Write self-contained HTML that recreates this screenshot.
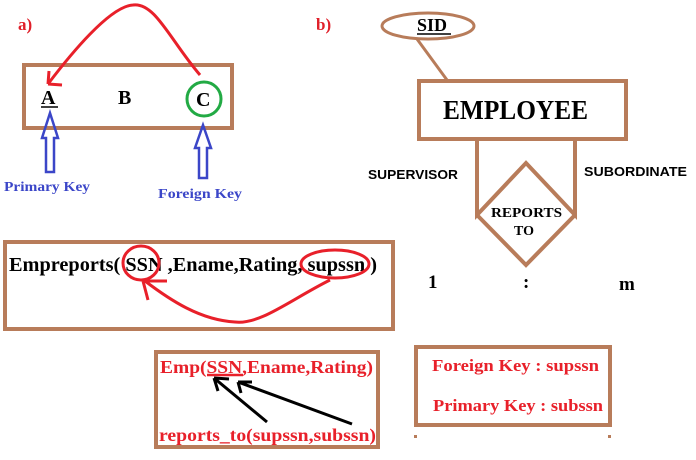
<!DOCTYPE html>
<html><head><style>
body{margin:0;width:696px;height:460px;background:#fff;overflow:hidden}
svg{display:block}
.s{font-family:"Liberation Serif",serif;font-weight:bold}
.a{font-family:"Liberation Sans",sans-serif;font-weight:bold}
</style></head><body>
<svg width="696" height="460" viewBox="0 0 696 460">
<g fill="none" stroke="#b87c5a" stroke-width="4">
<rect x="24" y="65" width="208" height="63"/>
<rect x="5" y="242" width="388" height="87"/>
<rect x="419" y="81" width="207" height="58"/>
<rect x="156" y="352" width="222" height="95"/>
<rect x="416" y="347" width="194" height="78"/>
<ellipse cx="428" cy="26" rx="46" ry="13" stroke-width="3"/>
<line x1="417" y1="39" x2="447" y2="80" stroke-width="3"/>
<polyline points="477,139 477,215 526,163 575,215 575,139"/>
<polyline points="477,215 526,265 575,215"/>
</g>
<rect x="414" y="435" width="3" height="3" fill="#b87c5a"/>
<rect x="608" y="435" width="3" height="3" fill="#b87c5a"/>
<text x="18" y="30" class="s" font-size="17" fill="#e0202a">a)</text>
<text x="316" y="30" class="s" font-size="17" fill="#e0202a">b)</text>
<text x="41" y="104" class="s" font-size="20">A</text>
<line x1="41" y1="107" x2="58" y2="107" stroke="#000" stroke-width="1.5"/>
<text x="118" y="104" class="s" font-size="20">B</text>
<text x="196" y="106" class="s" font-size="20">C</text>
<circle cx="204" cy="99" r="17" fill="none" stroke="#22aa44" stroke-width="3"/>
<g fill="none" stroke="#e8202a" stroke-width="3">
<path d="M200,75 C170,40 155,2 133,5 C110,6 70,55 48,84"/>
<path d="M48,84 L62,85 M48,84 L49,71"/>
</g>
<g fill="none" stroke="#3b46c8" stroke-width="2.5">
<path d="M50,113 L58,138 L54,138 L54,172 L46,172 L46,138 L42,138 Z"/>
<path d="M203,125 L211,148 L207,148 L207,178 L199,178 L199,148 L195,148 Z"/>
</g>
<text x="4" y="191" class="s" font-size="14" fill="#3b46c8" textLength="86" lengthAdjust="spacingAndGlyphs">Primary Key</text>
<text x="158" y="198" class="s" font-size="14" fill="#3b46c8" textLength="84" lengthAdjust="spacingAndGlyphs">Foreign Key</text>
<text x="9" y="271" class="s" font-size="20" textLength="368" lengthAdjust="spacingAndGlyphs">Empreports( SSN ,Ename,Rating, supssn )</text>
<g fill="none" stroke="#e8202a" stroke-width="3">
<ellipse cx="141" cy="263" rx="18" ry="17"/>
<ellipse cx="335" cy="264" rx="34" ry="14"/>
<path d="M330,280 C290,300 260,325 235,322 C200,320 170,300 145,281"/>
<path d="M143,281 L167,281 M143,281 L148,300"/>
</g>
<text x="443" y="119" class="s" font-size="27" textLength="145" lengthAdjust="spacingAndGlyphs">EMPLOYEE</text>
<text x="417" y="31" class="s" font-size="18">SID</text>
<line x1="417" y1="34" x2="451" y2="34" stroke="#000" stroke-width="1.5"/>
<text x="368" y="179" class="a" font-size="13" textLength="90" lengthAdjust="spacingAndGlyphs">SUPERVISOR</text>
<text x="584" y="176" class="a" font-size="13" textLength="103" lengthAdjust="spacingAndGlyphs">SUBORDINATE</text>
<text x="491" y="217" class="s" font-size="14" textLength="71" lengthAdjust="spacingAndGlyphs">REPORTS</text>
<text x="524" y="235" class="s" font-size="14" text-anchor="middle">TO</text>
<text x="428" y="288" class="s" font-size="19">1</text>
<text x="523" y="288" class="s" font-size="19">:</text>
<text x="619" y="290" class="s" font-size="19">m</text>
<text x="160" y="373" class="s" font-size="18" fill="#e8202a" textLength="213" lengthAdjust="spacingAndGlyphs">Emp(SSN,Ename,Rating)</text>
<line x1="207" y1="375" x2="243" y2="375" stroke="#e8202a" stroke-width="2.5"/>
<text x="159" y="441" class="s" font-size="18" fill="#e8202a" textLength="217" lengthAdjust="spacingAndGlyphs">reports_to(supssn,subssn)</text>
<g fill="none" stroke="#000" stroke-width="3">
<path d="M267,422 L214,378 M214,378 L229,379 M214,378 L218,391"/>
<path d="M352,424 L238,382 M238,382 L252,382 M238,382 L241,393"/>
</g>
<text x="432" y="371" class="s" font-size="17" fill="#e8202a" textLength="167" lengthAdjust="spacingAndGlyphs">Foreign Key : supssn</text>
<text x="433" y="411" class="s" font-size="17" fill="#e8202a" textLength="170" lengthAdjust="spacingAndGlyphs">Primary Key : subssn</text>
</svg>
</body></html>
